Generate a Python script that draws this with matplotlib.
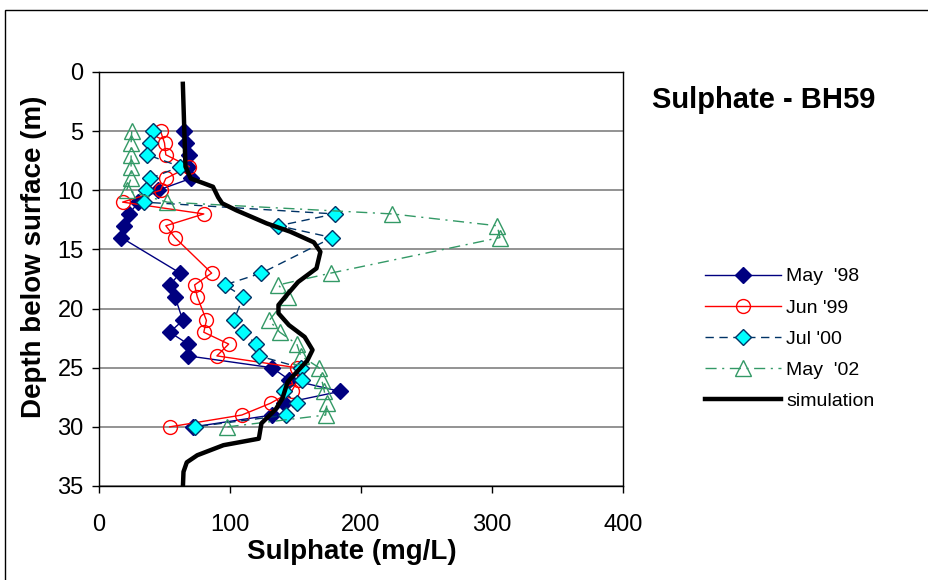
import matplotlib
matplotlib.use("Agg")
from matplotlib import pyplot as plt
from matplotlib.patches import Rectangle

plt.rcParams['font.family'] = ['Liberation Sans', 'DejaVu Sans']

depth = [5, 6, 7, 8, 9, 10, 11, 12, 13, 14, 17, 18, 19, 21, 22, 23, 24, 25, 26, 27, 28, 29, 30]

may98 = [65, 66.5, 69, 68, 70, 45, 30, 23, 19, 17, 62, 54, 58, 64, 54, 68, 68, 132, 145, 184, 141, 132, 72]
jun99 = [47, 50, 51, 69, 51, 47, 18, 80, 51, 58, 86, 73, 75, 82, 80, 99, 90, 151, 152, 147, 131, 109, 54]
jul00 = [41, 39, 37, 62, 39, 36, 34, 180, 137, 178, 124, 96, 110, 103, 110, 120, 122, 154, 155, 141, 151, 143, 73]
may02 = [25, 24.5, 24.5, 24.5, 24.5, 21, 52, 224, 304, 306, 177, 137, 144, 130, 138, 151, 154, 168, 170, 172, 174, 173, 98]

sim_depth = [1, 8, 9, 9.7, 10.6, 11.1, 11.7, 12.8, 13.5, 14.4, 15.2, 16.6, 17.75, 18.9, 19.7, 20.4,
             21.4, 22.4, 23.5, 24.4, 26.2, 27.6, 28.5, 29.7, 31, 31.55, 32.4, 33, 33.8, 35.2]
sim_val = [64, 66, 70, 87, 91, 94, 105, 128, 146, 164, 169, 166, 152, 143, 137, 137,
           145, 157, 163, 159, 144, 140, 135, 124, 122, 95, 75, 67, 64.5, 64]

fig = plt.figure(figsize=(9.29, 5.8), dpi=100)
ax = fig.add_axes([99/929, 1 - 486/580, (623 - 99)/929, (486 - 72)/580])

ax.plot(may98, depth, color='#000080', lw=1, marker='D', ms=8,
        mfc='#000080', mec='#000080', label="May  '98")
ax.plot(jun99, depth, color='#FF0000', lw=1, marker='o', ms=10,
        mfc='none', mec='#FF0000', mew=1, label="Jun '99")
ax.plot(jul00, depth, color='#003366', lw=1, ls=(0, (6, 4)), marker='D', ms=8,
        mfc='#00FFFF', mec='#003366', mew=1, label="Jul '00")
ax.plot(may02, depth, color='#339966', lw=1, ls=(0, (8, 4, 1.5, 4)), marker='^', ms=11,
        mfc='none', mec='#339966', mew=1, label="May  '02")
ax.plot(sim_val, sim_depth, color='black', lw=3.2, label='simulation')

ax.set_xlim(0, 400)
ax.set_ylim(35, 0)
ax.set_xticks([0, 100, 200, 300, 400])
ax.set_yticks([0, 5, 10, 15, 20, 25, 30, 35])
ax.tick_params(labelsize=17, direction='out', length=5, width=1, colors='black')
ax.tick_params(axis='x', pad=15)
ax.tick_params(axis='y', pad=6)
ax.yaxis.grid(True, color='#808080', lw=1.2)
ax.set_axisbelow(True)
for s in ax.spines.values():
    s.set_color('black')
    s.set_linewidth(1)

ax.set_xlabel('Sulphate (mg/L)', fontsize=20, fontweight='bold')
ax.set_ylabel('Depth below surface (m)', fontsize=20, fontweight='bold')
ax.xaxis.set_label_coords(0.482, -0.128)
ax.yaxis.set_label_coords(-0.099, 0.553)

fig.text(652/929, 1 - 100/580, 'Sulphate - BH59', fontsize=21, fontweight='bold', va='center')

fig.legend(loc='center left', bbox_to_anchor=(695/929, 1 - 339/580), frameon=False,
           fontsize=14, handlelength=3.9, handletextpad=0.3, labelspacing=0.7, borderpad=0)

fig.add_artist(Rectangle((5/929, -0.1), 2, 1.1 - 10/580, transform=fig.transFigure,
                         fill=False, edgecolor='black', lw=1))

fig.savefig('out.png', dpi=100)
